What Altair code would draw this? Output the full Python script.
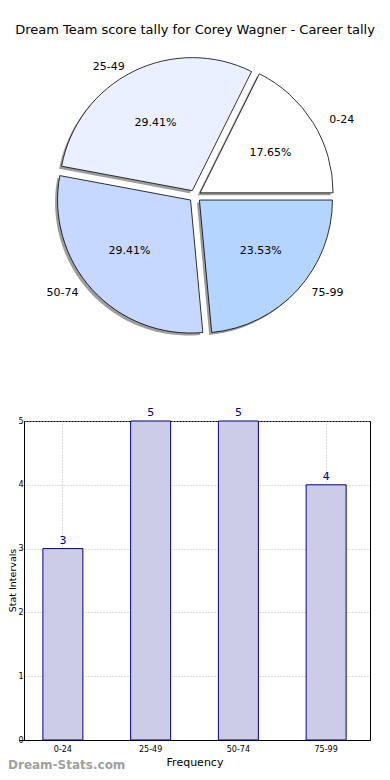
import altair as alt
import pandas as pd

# ---- data ----
categories = ["0-24", "25-49", "50-74", "75-99"]
counts = [3, 5, 5, 4]
slice_colors = ["#ffffff", "#eaf0ff", "#c6d8ff", "#b4d5ff"]

title_text = "Dream Team score tally for Corey Wagner - Career tally"
x_title = "Frequency"
y_title = "Stat Intervals"
watermark = "Dream-Stats.com"
y_ticks = [0, 1, 2, 3, 4, 5]

df = pd.DataFrame({"cat": categories, "count": counts})

# plot area of the bar chart: page x 24..370, y 421..740
PL = 16  # left padding (page x = 8 + PL)
W, H = 346, 319

# pie geometry (pixels, relative to the bar plot's origin)
CX, CY = 171, -225
R = 133
RX, RY = 138, 126
E = 6
FONT = "DejaVu Sans"

base = alt.Chart(df).transform_joinaggregate(
    total="sum(count)"
).transform_window(
    cum="sum(count)", sort=[alt.SortField("cat")], frame=[None, 0]
).transform_calculate(
    a0="2*PI*(datum.cum - datum.count)/datum.total",
    a1="2*PI*datum.cum/datum.total",
).transform_calculate(
    am="(datum.a0 + datum.a1)/2",
    t0="PI/2 - datum.a1",
    t1="PI/2 - datum.a0",
).transform_calculate(
    px=f"{CX} + {E}*cos(datum.am)",
    py=f"{CY} - {E}*sin(datum.am)",
).transform_calculate(
    sx="datum.px - 2.5",
    sy="datum.py + 2.5",
    lx=f"datum.px + 1.1*{RX}*cos(datum.am)",
    ly=f"datum.py - 1.1*{RY}*sin(datum.am)",
    qx=f"datum.px + 0.6*{RX}*cos(datum.am)",
    qy=f"datum.py - 0.6*{RY}*sin(datum.am)",
    pct="format(100*datum.count/datum.total, '.2f') + '%'",
    right="cos(datum.am) >= 0",
)

shadow = base.mark_arc(radius=R, fill="#4d4d4d", opacity=0.55).encode(
    theta=alt.Theta("t0:Q", scale=None),
    theta2="t1:Q",
    x=alt.X("sx:Q", scale=None),
    y=alt.Y("sy:Q", scale=None),
)

arcs = base.mark_arc(radius=R, stroke="black", strokeWidth=0.8).encode(
    theta=alt.Theta("t0:Q", scale=None),
    theta2="t1:Q",
    x=alt.X("px:Q", scale=None),
    y=alt.Y("py:Q", scale=None),
    color=alt.Color("cat:N", scale=alt.Scale(domain=categories, range=slice_colors), legend=None),
)

lab_right = base.transform_filter("datum.right").mark_text(
    align="left", baseline="middle", fontSize=11, font=FONT, color="black"
).encode(x=alt.X("lx:Q", scale=None), y=alt.Y("ly:Q", scale=None), text="cat:N")

lab_left = base.transform_filter("!datum.right").mark_text(
    align="right", baseline="middle", fontSize=11, font=FONT, color="black"
).encode(x=alt.X("lx:Q", scale=None), y=alt.Y("ly:Q", scale=None), text="cat:N")

pcts = base.mark_text(
    align="center", baseline="middle", fontSize=11, font=FONT, color="black"
).encode(x=alt.X("qx:Q", scale=None), y=alt.Y("qy:Q", scale=None), text="pct:N")

title = alt.Chart(pd.DataFrame({"t": [title_text]})).mark_text(
    align="center", baseline="middle", fontSize=13, font=FONT, color="black"
).encode(x=alt.value(CX), y=alt.value(-391), text="t:N")

wm = alt.Chart(pd.DataFrame({"t": [watermark]})).mark_text(
    align="left", baseline="bottom", fontSize=12, font=FONT, fontWeight="bold", color="#a0a0a0"
).encode(x=alt.value(-PL), y=alt.value(351), text="t:N")

grid_kw = dict(grid=True, gridColor="#b8b8b8", gridDash=[1, 2], gridWidth=1)

bars = alt.Chart(df).mark_bar(size=40, fill="#cccce6", stroke="#000080", strokeWidth=1).encode(
    x=alt.X("cat:N", sort=categories,
            scale=alt.Scale(paddingInner=0, paddingOuter=0, range=[-5, 346]),
            axis=alt.Axis(title=x_title, labelAngle=0, tickBand="center", ticks=False,
                          labelFontSize=8, labelPadding=5, titleFontSize=11, titlePadding=3,
                          titleFontWeight="normal", domainColor="black", **grid_kw)),
    y=alt.Y("count:Q", scale=alt.Scale(domain=[0, 5], nice=False),
            axis=alt.Axis(title=y_title, values=y_ticks, format="d", ticks=False, labelFontSize=8,
                          labelPadding=1, titleFontSize=9.5, titleFontWeight="normal",
                          titleBaseline="alphabetic", titleX=-8.2, titleY=159,
                          domainColor="black", **grid_kw)),
)
bar_text = alt.Chart(df).mark_text(dy=-8, fontSize=11, font=FONT, color="#000080").encode(
    x=alt.X("cat:N", sort=categories), y=alt.Y("count:Q"), text="count:Q"
)
bar_group = alt.layer(bars, bar_text)

chart = alt.layer(
    shadow, arcs, lab_right, lab_left, pcts, title, wm, bar_group
).resolve_scale(
    x="independent", y="independent", color="independent"
).properties(
    width=W, height=H,
    autosize=alt.AutoSizeParams(type="none"),
    padding={"left": PL, "top": 413, "right": 12, "bottom": 32},
).configure(font=FONT).configure_view(stroke="black", strokeWidth=1).configure_axis(
    labelFont=FONT, titleFont=FONT, labelColor="black", titleColor="black"
)

chart.save("out.html", embed_options={"renderer": "svg", "actions": False})
